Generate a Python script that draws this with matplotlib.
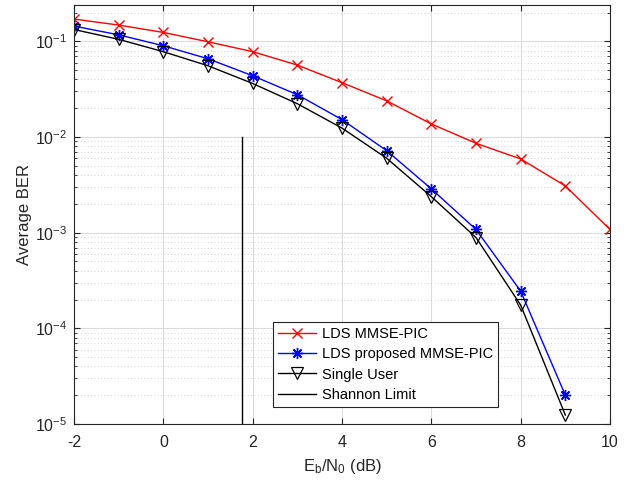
import matplotlib
matplotlib.use("Agg")
import matplotlib.pyplot as plt
import numpy as np
from matplotlib.ticker import LogLocator, NullFormatter

plt.rcParams['font.family'] = ['Liberation Sans', 'DejaVu Sans']
plt.rcParams['mathtext.fontset'] = 'custom'
plt.rcParams['mathtext.rm'] = 'Liberation Sans'
plt.rcParams['mathtext.it'] = 'Liberation Sans'

ebn0 = [-2, -1, 0, 1, 2, 3, 4, 5, 6, 7, 8, 9, 10]
ber_lds = [0.171, 0.148, 0.124, 0.099, 0.078, 0.0565, 0.037, 0.0239, 0.0137,
           0.0086, 0.0059, 0.00308, 0.00108]
ebn0_prop = [-2, -1, 0, 1, 2, 3, 4, 5, 6, 7, 8, 9]
ber_prop = [0.1445, 0.117, 0.090, 0.0658, 0.0437, 0.0277, 0.0152, 0.0072,
            0.00287, 0.00108, 0.000245, 2.0e-5]
ber_single = [0.133, 0.105, 0.078, 0.0556, 0.0363, 0.0223, 0.0124, 0.006,
              0.00238, 0.00089, 0.000175, 1.24e-5]
shannon_x = [1.76, 1.76]
shannon_y = [1e-2, 1e-5]

fig = plt.figure(figsize=(6.35, 4.83), dpi=100)
ax = fig.add_axes([74/635, 1-424/483, 536/635, 419/483])

ax.semilogy(ebn0, ber_lds, color='red', marker='x', markersize=6.5, lw=1,
            label='LDS MMSE-PIC')
ax.semilogy(ebn0_prop, ber_prop, color='blue', marker=(8, 2, 0), markersize=8, lw=1,
            markeredgewidth=1, label='LDS proposed MMSE-PIC')
ax.semilogy(ebn0_prop, ber_single, color='black', marker='v', markersize=9, lw=1,
            markerfacecolor='none', markeredgewidth=0.9, label='Single User')
ax.semilogy(shannon_x, shannon_y, color='black', lw=1, label='Shannon Limit')

ax.set_xlim(-2, 10)
ax.set_ylim(1e-5, 0.24)
ax.set_xticks([-2, 0, 2, 4, 6, 8, 10])
ax.set_xticklabels(['-2', '0', '2', '4', '6', '8', '10'])
ax.yaxis.set_major_locator(LogLocator(base=10, numticks=10))
ax.yaxis.set_minor_locator(LogLocator(base=10, subs=np.arange(2, 10), numticks=20))
ax.yaxis.set_minor_formatter(NullFormatter())

ax.grid(True, which='major', color='#dcdcdc', lw=0.8, ls='-')
ax.grid(True, which='minor', axis='y', color='#c8c8c8', lw=0.6, ls=(0, (1, 3)))
ax.set_axisbelow(True)

ax.tick_params(which='both', direction='in', top=True, right=True, labelsize=11.5,
               colors='#262626', labelcolor='#262626')
ax.tick_params(which='major', length=4)
ax.tick_params(which='minor', length=2.5)
ax.tick_params(axis='x', pad=8)
ax.tick_params(axis='y', pad=5)
for s in ax.spines.values():
    s.set_color('#262626')
    s.set_linewidth(0.8)

ax.set_xlabel(r'E$_\mathrm{b}$/N$_\mathrm{0}$ (dB)', fontsize=12, color='#262626',
              labelpad=5)
ax.set_ylabel('Average BER', fontsize=12, color='#262626', labelpad=2)

leg = ax.legend(loc='lower right', bbox_to_anchor=(0.791, 0.041), fontsize=10.5,
                fancybox=False, framealpha=1, edgecolor='#262626',
                borderpad=0.35, labelspacing=0.42, handlelength=2.6, handletextpad=0.4,
                borderaxespad=0)
leg.get_frame().set_linewidth(0.8)

fig.savefig('out.png', dpi=100)
